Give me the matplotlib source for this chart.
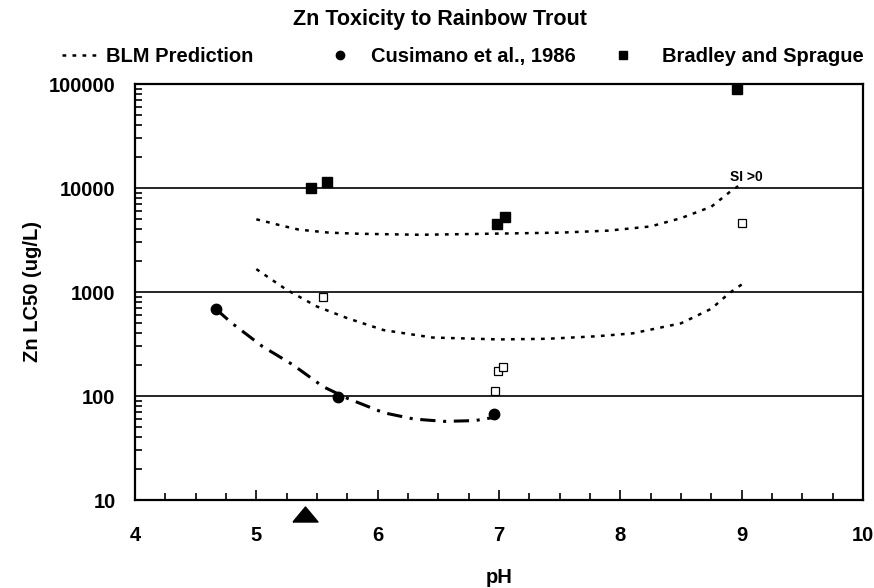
import numpy as np
import matplotlib
matplotlib.use("Agg")
import matplotlib.pyplot as plt
from matplotlib.lines import Line2D
from matplotlib.ticker import FixedLocator, NullFormatter, FuncFormatter, MultipleLocator
import matplotlib.transforms as mtransforms

plt.rcParams['font.family'] = ['Liberation Sans', 'DejaVu Sans']
plt.rcParams['font.weight'] = 'bold'

# ---- data ----
blm_upper_ph = [5.0, 5.1, 5.2, 5.35, 5.6, 5.85, 6.35, 6.9, 7.5, 7.9, 8.25, 8.5, 8.75, 8.9, 9.0]
blm_upper_lc50 = [5000, 4680, 4370, 3980, 3720, 3630, 3550, 3630, 3720, 3890, 4270, 5130, 6610, 9120, 11000]

blm_lower_ph = [5.0, 5.15, 5.25, 5.5, 5.75, 6.05, 6.45, 7.0, 7.4, 7.8, 8.1, 8.5, 8.75, 8.9, 9.0]
blm_lower_lc50 = [1660, 1260, 1050, 725, 560, 430, 365, 350, 355, 375, 400, 500, 690, 980, 1180]

blm_cus_ph = [4.67, 4.8, 5.05, 5.3, 5.55, 5.75, 6.05, 6.3, 6.55, 6.8, 6.95]
blm_cus_lc50 = [680, 500, 300, 200, 123, 95, 69, 60, 57, 58, 62]

cus_ph = [4.67, 5.67, 6.96]
cus_lc50 = [680, 98, 67]

bs_filled_ph = [5.45, 5.58, 6.98, 7.05, 8.96]
bs_filled_lc50 = [10000, 11300, 4470, 5250, 89000]

bs_open_ph = [5.55, 9.0, 6.97, 6.99, 7.03]
bs_open_lc50 = [890, 4600, 112, 174, 190]

marker_ph = [5.4]

yticks = [10, 100, 1000, 10000, 100000]
xticks = [4, 5, 6, 7, 8, 9, 10]
gridlines = [100, 1000, 10000]

FS = 14.5

fig = plt.figure(figsize=(8.74, 5.88), dpi=100)
ax = fig.add_axes([135/874, 1-500/588, (863-135)/874, (500-84)/588])

ax.set_yscale('log')
ax.set_xlim(4, 10)
ax.set_ylim(10, 100000)

for g in gridlines:
    ax.axhline(g, color='black', lw=1.2, zorder=1)

ax.plot(blm_upper_ph, blm_upper_lc50, color='black', lw=1.8, linestyle=(0, (1.5, 2.5)), zorder=2)
ax.plot(blm_lower_ph, blm_lower_lc50, color='black', lw=1.8, linestyle=(0, (1.5, 2.5)), zorder=2)
ax.plot(blm_cus_ph, blm_cus_lc50, color='black', lw=2.2, linestyle=(0, (5, 2.5, 1, 2.5)), zorder=2)

ax.plot(cus_ph, cus_lc50, 'o', color='black', ms=7.5, zorder=3)
ax.plot(bs_filled_ph, bs_filled_lc50, 's', color='black', ms=6.5, zorder=3)
ax.plot(bs_open_ph, bs_open_lc50, 's', mfc='white', mec='black', mew=0.9, ms=5.5, zorder=3)

trans = mtransforms.blended_transform_factory(ax.transData, ax.transAxes)
tri = [(-1, -0.6), (1, -0.6), (0, 0.6), (-1, -0.6)]
ax.plot(marker_ph, [-0.034] * len(marker_ph), marker=tri, color='black', ms=18,
        linestyle='none', transform=trans, clip_on=False, zorder=5)

ax.text(8.9, 12770, 'SI >0', fontsize=10, fontweight='bold', va='center', ha='left')

ax.xaxis.set_major_locator(FixedLocator(xticks))
ax.xaxis.set_minor_locator(MultipleLocator(0.25))
ax.xaxis.set_major_formatter(FuncFormatter(lambda v, p: f'{v:g}'))
ax.yaxis.set_major_locator(FixedLocator(yticks))
ax.yaxis.set_major_formatter(FuncFormatter(lambda v, p: f'{int(round(v))}'))
ax.yaxis.set_minor_formatter(NullFormatter())

ax.tick_params(axis='both', which='both', direction='in', top=False, right=False,
               labelsize=FS, width=1.2, colors='black')
ax.tick_params(axis='x', which='major', length=7, pad=19)
ax.tick_params(axis='x', which='minor', length=5)
ax.tick_params(axis='y', which='major', length=0, pad=14)
ax.tick_params(axis='y', which='minor', length=5)
for lab in ax.get_xticklabels() + ax.get_yticklabels():
    lab.set_fontweight('bold')

for s in ax.spines.values():
    s.set_linewidth(1.6)

ax.set_xlabel('pH', fontsize=FS, fontweight='bold')
ax.xaxis.set_label_coords(0.5, -0.163)
ax.set_ylabel('Zn LC50 (ug/L)', fontsize=FS, fontweight='bold', va='center')
ax.yaxis.set_label_coords(-0.141, 0.5)

fig.text(440/874, 1-20/588, 'Zn Toxicity to Rainbow Trout', fontsize=15.5, fontweight='bold',
         ha='center', va='center')

# legend (manual)
ly = 1 - 55/588
lb = 1 - 62/588
fig.add_artist(Line2D([62/874, 100/874], [ly, ly], color='black', lw=1.8,
                      linestyle=(0, (1.5, 2.5)), transform=fig.transFigure))
fig.text(106/874, lb, 'BLM Prediction', fontsize=FS, fontweight='bold', va='baseline', ha='left')
fig.add_artist(Line2D([340/874], [ly], marker='o', color='black', ms=6, linestyle='none',
                      transform=fig.transFigure))
fig.text(371/874, lb, 'Cusimano et al., 1986', fontsize=FS, fontweight='bold', va='baseline', ha='left')
fig.add_artist(Line2D([623/874], [ly], marker='s', color='black', ms=5.5, linestyle='none',
                      transform=fig.transFigure))
fig.text(662/874, lb, 'Bradley and Sprague', fontsize=FS, fontweight='bold', va='baseline', ha='left')

fig.savefig('out.png', dpi=100, facecolor='white')
